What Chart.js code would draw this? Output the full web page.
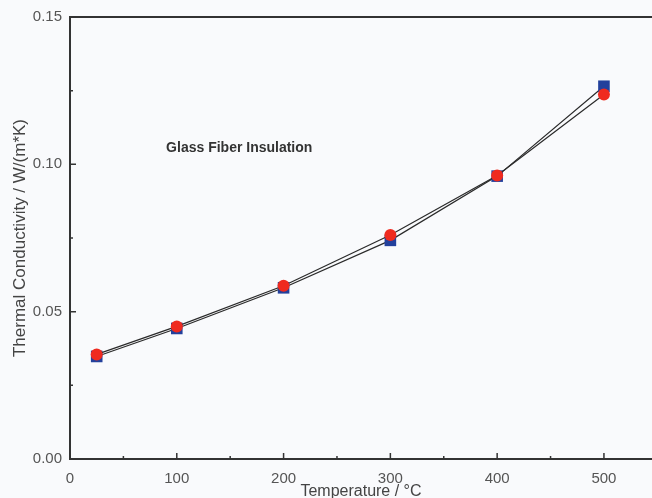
<!DOCTYPE html>
<html><head><meta charset="utf-8">
<script src="https://cdn.jsdelivr.net/npm/chart.js@4/dist/chart.umd.min.js"></script>
<style>html,body{margin:0;padding:0;background:#f9fafc}#wrap{width:652px;height:498px}</style>
</head><body><div id="wrap"><canvas id="c" width="652" height="498"></canvas></div>
<script>
const temperatures = [25, 100, 200, 300, 400, 500];
const seriesSquare = [0.0348, 0.0443, 0.0581, 0.0742, 0.0960, 0.1265];
const seriesCircle = [0.0355, 0.0450, 0.0588, 0.0760, 0.0962, 0.1237];
const xTicks = [0, 100, 200, 300, 400, 500];
const yTicks = [0, 0.05, 0.10, 0.15];
const xMinorTicks = [50, 150, 250, 350, 450];
const yMinorTicks = [0.025, 0.075, 0.125];
const annotationText = "Glass Fiber Insulation";
const annotationPos = {x: 90, y: 0.1054};

const font = "'Liberation Sans', Arial, sans-serif";

const decor = {
  id: 'decor',
  beforeDraw(chart) {
    const ctx = chart.ctx;
    ctx.save();
    ctx.fillStyle = '#f9fafc';
    ctx.fillRect(0, 0, chart.width, chart.height);
    ctx.restore();
  },
  afterDatasetsDraw(chart) {
    const ctx = chart.ctx, a = chart.chartArea, xs = chart.scales.x, ys = chart.scales.y;
    ctx.save();
    ctx.strokeStyle = '#333';
    ctx.lineWidth = 2;
    ctx.beginPath();
    ctx.moveTo(a.left, a.top); ctx.lineTo(a.right, a.top);
    ctx.stroke();
    ctx.lineWidth = 1.5;
    ctx.beginPath();
    xTicks.forEach(v => { const p = xs.getPixelForValue(v); ctx.moveTo(p, a.bottom); ctx.lineTo(p, a.bottom - 6); });
    xMinorTicks.forEach(v => { const p = xs.getPixelForValue(v); ctx.moveTo(p, a.bottom); ctx.lineTo(p, a.bottom - 3); });
    yTicks.forEach(v => { const p = ys.getPixelForValue(v); ctx.moveTo(a.left, p); ctx.lineTo(a.left + 6, p); });
    yMinorTicks.forEach(v => { const p = ys.getPixelForValue(v); ctx.moveTo(a.left, p); ctx.lineTo(a.left + 3, p); });
    ctx.stroke();
    ctx.fillStyle = '#333';
    ctx.font = "bold 14px " + font;
    ctx.textAlign = 'left';
    ctx.textBaseline = 'middle';
    ctx.fillText(annotationText, xs.getPixelForValue(annotationPos.x), ys.getPixelForValue(annotationPos.y));
    ctx.restore();
  }
};

new Chart(document.getElementById('c'), {
  type: 'line',
  data: {
    datasets: [
      {
        label: 'circle',
        data: temperatures.map((t, i) => ({x: t, y: seriesCircle[i]})),
        borderColor: '#2a2a2a', borderWidth: 1.2,
        pointStyle: 'circle', pointRadius: 6,
        pointBackgroundColor: '#ef2a1f', pointBorderColor: '#ef2a1f', pointBorderWidth: 0,
        order: 1
      },
      {
        label: 'square',
        data: temperatures.map((t, i) => ({x: t, y: seriesSquare[i]})),
        borderColor: '#2a2a2a', borderWidth: 1.2,
        pointStyle: 'rect', pointRadius: 8.2,
        pointBackgroundColor: '#23409c', pointBorderColor: '#23409c', pointBorderWidth: 0,
        order: 2
      }
    ]
  },
  options: {
    responsive: false, animation: false,
    layout: {autoPadding: false, padding: {top: 15, right: 0, left: 0, bottom: 0}},
    plugins: {legend: {display: false}, tooltip: {enabled: false}},
    scales: {
      x: {
        type: 'linear', min: 0, max: 545,
        afterBuildTicks: s => { s.ticks = xTicks.map(v => ({value: v})); },
        afterFit: s => { s.height = 39; s.paddingRight = 0; s.paddingLeft = 0; },
        grid: {display: false, drawTicks: false},
        border: {display: true, color: '#333', width: 2},
        ticks: {color: '#555', font: {family: font, size: 15}, padding: 11, maxRotation: 0},
        title: {display: true, text: 'Temperature / °C', color: '#444', font: {family: font, size: 16, lineHeight: 1}, padding: {top: 0, bottom: -2}}
      },
      y: {
        type: 'linear', min: 0, max: 0.15,
        afterBuildTicks: s => { s.ticks = yTicks.map(v => ({value: v})); },
        afterFit: s => { s.width = 70; },
        grid: {display: false, drawTicks: false},
        border: {display: true, color: '#333', width: 2},
        ticks: {color: '#555', font: {family: font, size: 15}, padding: 8, callback: v => v.toFixed(2)},
        title: {display: true, text: 'Thermal Conductivity / W/(m*K)', color: '#444', font: {family: font, size: 17}, padding: {top: 10, bottom: 4}}
      }
    }
  },
  plugins: [decor]
});
</script>
</body></html>
